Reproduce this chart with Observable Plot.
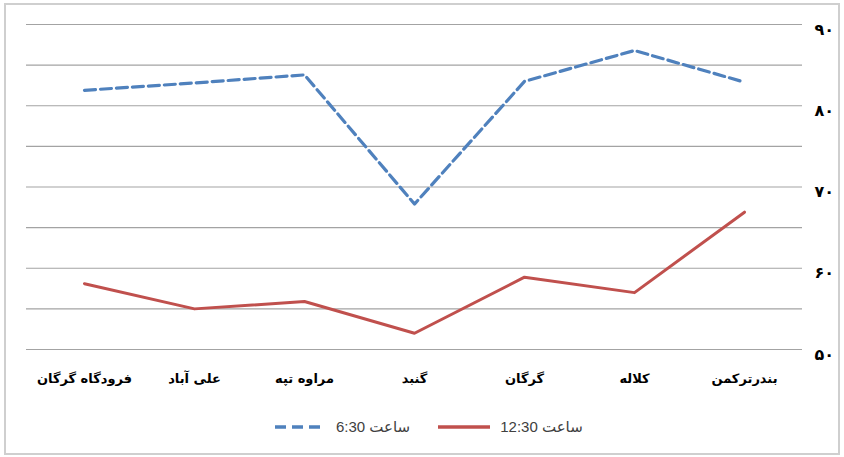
<!DOCTYPE html>
<html>
<head>
<meta charset="utf-8">
<script src="https://cdn.jsdelivr.net/npm/d3@7"></script>
<script src="https://cdn.jsdelivr.net/npm/@observablehq/plot@0.6"></script>
<style>
  html, body { margin: 0; padding: 0; background: #fff; }
  #wrap { position: relative; width: 844px; height: 457px; overflow: hidden; }
  #frame { position: absolute; left: 4px; top: 3px; width: 832px; height: 448px; border: 2px solid #cfcfcf; }
  #chart { position: absolute; left: 0; top: 0; }
  #legend { position: absolute; left: 275px; top: 416px; height: 22px; display: flex; align-items: center; direction: ltr;
            font-family: "Liberation Sans Narrow", "Liberation Sans", "DejaVu Sans", sans-serif; font-size: 15px; color: #404040; }
  #legend .t { direction: rtl; unicode-bidi: embed; white-space: nowrap; }
</style>
</head>
<body>
<div id="wrap">
  <div id="frame"></div>
  <div id="chart"></div>
  <div id="legend"></div>
</div>
<script>
// ---- data ----
const categories = ["فرودگاه گرگان", "علی آباد", "مراوه تپه", "گنبد", "گرگان", "کلاله", "بندرترکمن"];
const series = ["ساعت 6:30", "ساعت 12:30"];
const values630 = [81.9, 82.8, 83.8, 67.9, 83.0, 86.8, 82.9];
const values1230 = [58.1, 55.0, 55.9, 52.0, 58.9, 57.0, 66.9];
const seriesColors = ["#4f81bd", "#c0504d"];
const yTicks = [50, 60, 70, 80, 90];
const yTickLabels = ["۵۰", "۶۰", "۷۰", "۸۰", "۹۰"];
const gridValues = [50, 55, 60, 65, 70, 75, 80, 85, 90];

const rows = [];
categories.forEach((c, i) => {
  rows.push({category: c, series: series[0], value: values630[i]});
  rows.push({category: c, series: series[1], value: values1230[i]});
});
const tickLabel = new Map(yTicks.map((t, i) => [t, yTickLabels[i]]));

const chart = Plot.plot({
  width: 844,
  height: 400,
  marginLeft: 26,
  marginRight: 42,
  marginTop: 24,
  marginBottom: 51,
  style: {fontFamily: "'DejaVu Sans', sans-serif", background: "transparent"},
  x: {type: "point", domain: categories, padding: 0.5, label: null},
  y: {domain: [50, 90], label: null},
  marks: [
    Plot.ruleY(gridValues, {stroke: "#a3a3a3", strokeWidth: 1.2}),
    Plot.axisY(yTicks, {anchor: "right", tickSize: 0, tickPadding: 12, dy: 5,
      tickFormat: d => tickLabel.get(d), fontSize: 16, fontWeight: "bold", fill: "#000", label: null}),
    Plot.axisX({tickSize: 0, tickPadding: 24, fontSize: 13, fontWeight: "bold", fill: "#000", label: null}),
    Plot.line(rows.filter(d => d.series === series[0]), {x: "category", y: "value",
      stroke: seriesColors[0], strokeWidth: 3.2, strokeDasharray: "11,5"}),
    Plot.line(rows.filter(d => d.series === series[1]), {x: "category", y: "value",
      stroke: seriesColors[1], strokeWidth: 3})
  ]
});
document.getElementById("chart").appendChild(chart);

// ---- legend ----
const legend = document.getElementById("legend");
function swatch(color, dashed, w) {
  const ns = "http://www.w3.org/2000/svg";
  const s = document.createElementNS(ns, "svg");
  s.setAttribute("width", w); s.setAttribute("height", 10);
  const l = document.createElementNS(ns, "line");
  l.setAttribute("x1", 0); l.setAttribute("x2", w); l.setAttribute("y1", 5); l.setAttribute("y2", 5);
  l.setAttribute("stroke", color); l.setAttribute("stroke-width", 3.5);
  if (dashed) l.setAttribute("stroke-dasharray", "11,6");
  s.appendChild(l);
  return s;
}
function text(t, ml) {
  const sp = document.createElement("span");
  sp.className = "t"; sp.textContent = t; sp.style.marginLeft = ml + "px";
  return sp;
}
const s1 = swatch(seriesColors[0], true, 46);
legend.appendChild(s1);
legend.appendChild(text(series[0], 15));
const s2 = swatch(seriesColors[1], false, 52);
s2.style.marginLeft = "28px";
legend.appendChild(s2);
legend.appendChild(text(series[1], 10));
</script>
</body>
</html>
